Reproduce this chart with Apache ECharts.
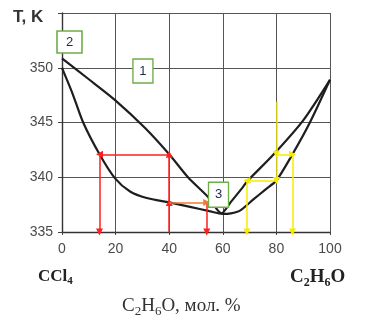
<!DOCTYPE html>
<html>
<head>
<meta charset="utf-8">
<script src="https://cdn.jsdelivr.net/npm/echarts@6/dist/echarts.min.js"></script>
<style>
  html, body { margin: 0; padding: 0; background: #ffffff; }
  #chart { width: 366px; height: 326px; }
</style>
</head>
<body>
<div id="chart"></div>
<script>
// Boiling-point diagram of the CCl4 – C2H6O system (T, K vs. mol. % C2H6O)

// axis ranges and tick steps
const xRange = [0, 100];
const xStep = 20;
const tRange = [335, 355];
const tStep = 5;

// curve 1: vapour (dew) line, [mol. % C2H6O, T K]
const vapourCurve = [
  [0, 350.85], [10, 348.95], [19.8, 347.05], [31, 344.5], [40, 342.1],
  [47, 340.0], [54.5, 338.2], [59.5, 336.7], [62.7, 337.65], [67.5, 339.1],
  [69, 339.6], [79, 342.1], [90, 345.2], [100, 348.9]
];

// curve 2: liquid (bubble) line, [mol. % C2H6O, T K]
const liquidCurve = [
  [0, 350.0], [1, 349.4], [4, 347.6], [7.9, 345.0], [14, 342.1],
  [19.8, 339.9], [25.4, 338.7], [31.6, 338.1], [40, 337.7], [47.8, 337.3],
  [55, 336.9], [60, 336.65], [63, 336.7], [66.4, 336.95], [71.3, 337.95],
  [76, 338.9], [80, 339.7], [86, 342.1], [92.5, 345.0], [100, 348.9]
];

// tie-line arrows, [x from, T from, x to, T to]
const redArrows = [
  [40, 335, 40, 337.7],
  [40, 337.7, 40, 342.1],
  [40, 342.1, 14, 342.1],
  [14, 342.1, 14, 335],
  [54, 337.7, 54, 335]
];
const orangeArrows = [
  [40, 337.7, 54, 337.7]
];
const yellowArrows = [
  [80, 346.9, 80, 342.1],
  [80, 342.1, 80, 339.7],
  [80, 342.1, 86, 342.1],
  [86, 342.1, 86, 335],
  [80, 339.7, 69, 339.7],
  [69, 339.7, 69, 335]
];

// numbered callouts: label, x, T, box size
const callouts = [
  ['1', 30.2, 349.7, [20, 24]],
  ['2', 2.8, 352.35, [25, 22]],
  ['3', 58.4, 338.4, [20, 25]]
];

const gridColor = '#555555';
const curveColor = '#1e1e1e';

function arrowSeries(list, color) {
  return {
    type: 'line',
    data: [],
    silent: true,
    z: 4,
    markLine: {
      silent: true,
      animation: false,
      symbol: ['none', 'triangle'],
      symbolSize: [7, 7],
      label: { show: false },
      emphasis: { disabled: true },
      lineStyle: { color: color, width: 1.5, type: 'solid' },
      data: list.map(a => [
        { coord: [a[0], a[1]] },
        { coord: [a[2], a[3]] }
      ])
    }
  };
}

function curveSeries(points) {
  return {
    type: 'line',
    data: points,
    showSymbol: false,
    smooth: 0.25,
    silent: true,
    z: 3,
    lineStyle: { color: curveColor, width: 2.2 }
  };
}

const chart = echarts.init(document.getElementById('chart'), null, { renderer: 'canvas' });

const axisFont = { fontFamily: 'Liberation Sans, Arial, sans-serif', fontSize: 14, color: '#4a4a4a' };
const serifFont = 'Liberation Serif, Times New Roman, serif';

// rich-text styles for chemical formulas with lowered indices
function formulaRich(size, subSize, weight, fill) {
  return {
    m: { font: weight + ' ' + size + 'px ' + serifFont, fill: fill, verticalAlign: 'bottom', lineHeight: size + 2, padding: [0, 0, 2, 0] },
    s: { font: weight + ' ' + subSize + 'px ' + serifFont, fill: fill, verticalAlign: 'bottom', lineHeight: subSize }
  };
}

chart.setOption({
  animation: false,
  backgroundColor: '#ffffff',
  grid: { left: 62, right: 36, top: 13, bottom: 94 },
  xAxis: {
    type: 'value',
    min: xRange[0], max: xRange[1], interval: xStep,
    axisLine: { show: true, lineStyle: { color: '#333', width: 1.4 } },
    axisTick: { show: true, length: 3, lineStyle: { color: '#444' } },
    axisLabel: Object.assign({ margin: 10 }, axisFont),
    splitLine: { show: true, lineStyle: { color: gridColor, width: 1 } }
  },
  yAxis: {
    type: 'value',
    min: tRange[0], max: tRange[1], interval: tStep,
    axisLine: { show: true, lineStyle: { color: '#333', width: 1.4 } },
    axisTick: { show: true, length: 4, lineStyle: { color: '#444' } },
    axisLabel: Object.assign({
      margin: 9,
      formatter: v => (v === tRange[1] ? '' : String(v))
    }, axisFont),
    splitLine: { show: true, lineStyle: { color: gridColor, width: 1 } }
  },
  series: [
    curveSeries(vapourCurve),
    curveSeries(liquidCurve),
    arrowSeries(redArrows, '#ff1f1f'),
    arrowSeries(orangeArrows, '#f07a35'),
    arrowSeries(yellowArrows, '#f7ec00'),
    {
      type: 'line',
      data: [],
      silent: true,
      z: 10,
      markPoint: {
        silent: true,
        animation: false,
        symbol: 'rect',
        itemStyle: { color: '#ffffff', borderColor: '#70ad47', borderWidth: 1.5 },
        label: {
          show: true,
          position: 'inside',
          formatter: p => p.name,
          color: '#1f2a4a',
          fontSize: 13,
          fontFamily: 'Liberation Sans, Arial, sans-serif'
        },
        data: callouts.map(c => ({ name: c[0], coord: [c[1], c[2]], symbolSize: c[3] }))
      }
    }
  ],
  graphic: [
    {
      type: 'text', left: 13, top: 9,
      style: { text: 'T, K', font: 'bold 17px Liberation Sans, Arial, sans-serif', fill: '#333' }
    },
    {
      type: 'text', left: 38, top: 268,
      style: { text: '{m|CCl}{s|4}', rich: formulaRich(17, 11, 'bold', '#222') }
    },
    {
      type: 'text', left: 290, top: 268,
      style: { text: '{m|C}{s|2}{m|H}{s|6}{m|O}', rich: formulaRich(19, 12, 'bold', '#222') }
    },
    {
      type: 'text', left: 122, top: 297,
      style: { text: '{m|C}{s|2}{m|H}{s|6}{m|O, мол. %}', rich: formulaRich(19, 13, 'normal', '#333') }
    }
  ]
});
</script>
</body>
</html>
